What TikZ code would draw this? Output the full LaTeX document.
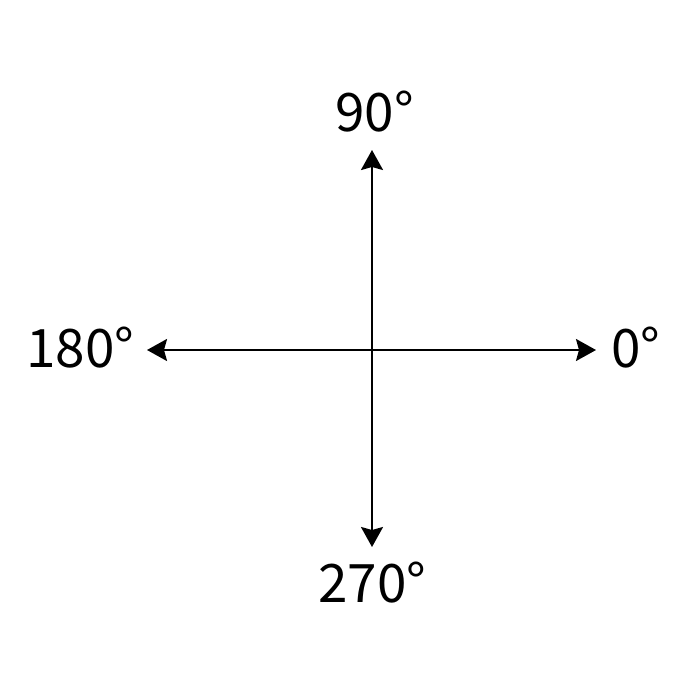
\documentclass[tikz,border=0pt]{standalone}
\usepackage{fontspec}
\setmainfont{Noto Sans CJK JP}
\usetikzlibrary{arrows.meta}
\begin{document}
\begin{tikzpicture}[x=0.5pt,y=-0.5pt,
  axis/.style={line width=1pt,{Stealth[length=10pt,width=11pt,inset=1.5pt]}-{Stealth[length=10pt,width=11pt,inset=1.5pt]}},
  lbl/.style={inner sep=0pt,anchor=base west,font=\fontsize{26.5}{30}\selectfont}]
\useasboundingbox (0,0) rectangle (700,700);
\coordinate (w) at (147,350);
\coordinate (e) at (596,350);
\coordinate (n) at (372,150);
\coordinate (s) at (372,547);
\draw[axis] (w) -- (e);
\draw[axis] (s) -- (n);
\node[lbl] (l90) at (335,132) {90°};
\node[lbl] (l0) at (611,367) {0°};
\node[lbl] (l180) at (26,367) {180°};
\node[lbl] (l270) at (318,602) {270°};
\end{tikzpicture}
\end{document}
